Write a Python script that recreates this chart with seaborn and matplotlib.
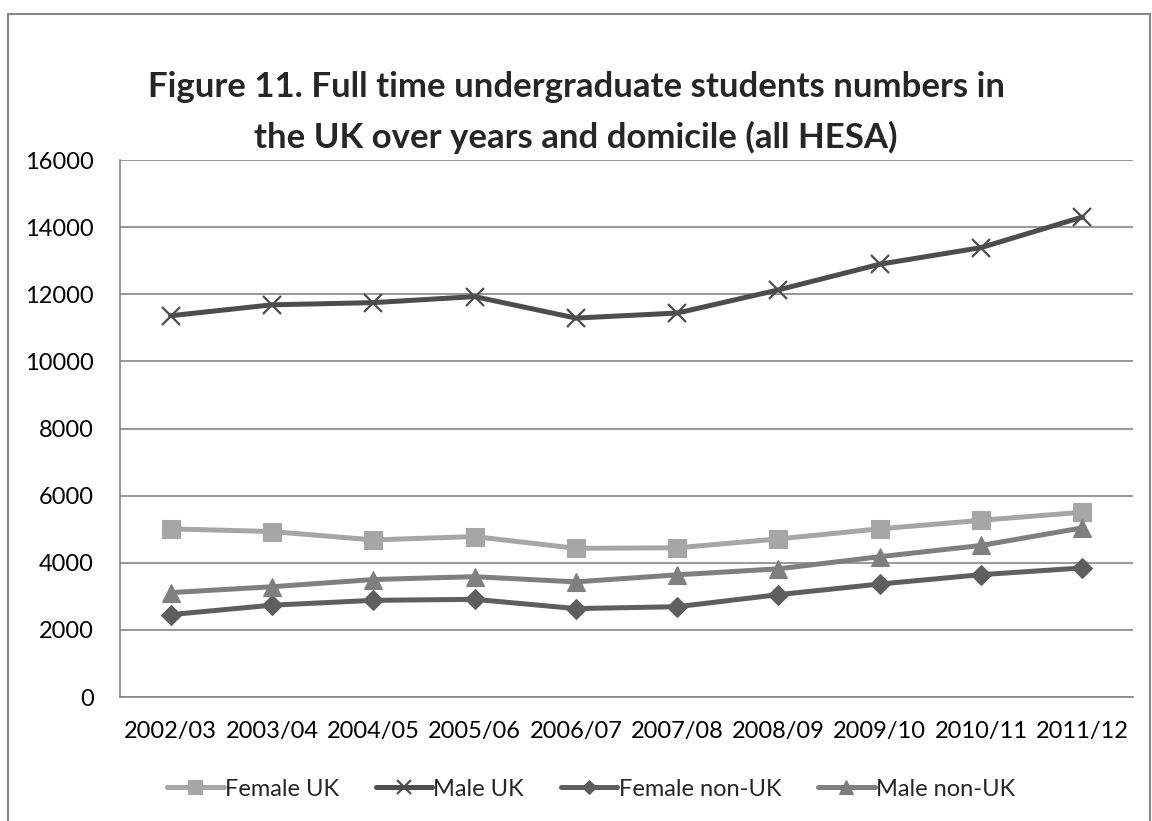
import matplotlib
matplotlib.use("Agg")
import matplotlib.pyplot as plt
from matplotlib.patches import Rectangle
import seaborn as sns
import pandas as pd

years = ["2002/03", "2003/04", "2004/05", "2005/06", "2006/07",
         "2007/08", "2008/09", "2009/10", "2010/11", "2011/12"]
female_uk = [5010, 4930, 4680, 4780, 4430, 4445, 4710, 5010, 5265, 5505]
male_uk = [11360, 11685, 11750, 11930, 11290, 11440, 12130, 12895, 13390, 14300]
female_non_uk = [2455, 2735, 2880, 2910, 2635, 2690, 3050, 3365, 3645, 3845]
male_non_uk = [3110, 3285, 3500, 3585, 3430, 3640, 3820, 4180, 4515, 5040]

series_names = ["Female UK", "Male UK", "Female non-UK", "Male non-UK"]
series_values = [female_uk, male_uk, female_non_uk, male_non_uk]

rows = []
for name, vals in zip(series_names, series_values):
    for i, (yr, v) in enumerate(zip(years, vals)):
        rows.append({"pos": i, "year": yr, "series": name, "students": v})
df = pd.DataFrame(rows)

palette = {"Female UK": "#A6A6A6", "Male UK": "#4D4D4D",
           "Female non-UK": "#5E5E5E", "Male non-UK": "#7F7F7F"}
markers = {"Female UK": "s", "Male UK": "x",
           "Female non-UK": "D", "Male non-UK": "^"}
msizes = {"Female UK": 13, "Male UK": 13, "Female non-UK": 10, "Male non-UK": 13}

sns.set_theme(style="white")
plt.rcParams["font.family"] = ["Lato", "DejaVu Sans"]

fig = plt.figure(figsize=(11.52, 8.21), dpi=100)
ax = fig.add_axes([120 / 1152, 1 - 697 / 821, (1133 - 120) / 1152, (697 - 160) / 821])

for name in series_names:
    sub = df[df["series"] == name]
    sns.lineplot(data=sub, x="pos", y="students", ax=ax, color=palette[name],
                 linewidth=3.6, marker=markers[name], markersize=msizes[name],
                 markeredgecolor=palette[name],
                 markeredgewidth=1.6 if name == "Male UK" else 0.8,
                 label=name, legend=False)

ax.set_xlim(-0.5, len(years) - 0.5)
ax.set_ylim(0, 16000)
ax.set_yticks(range(0, 16001, 2000))
ax.set_xticks(range(len(years)))
ax.set_xticklabels(years)
ax.set_xlabel("")
ax.set_ylabel("")
ax.grid(axis="y", color="#868686", linewidth=1.2)
ax.grid(axis="x", visible=False)
for side in ["top", "right"]:
    ax.spines[side].set_visible(False)
for side in ["left", "bottom"]:
    ax.spines[side].set_color("#868686")
    ax.spines[side].set_linewidth(1.2)
ax.tick_params(axis="both", labelsize=17, colors="black", length=0)
ax.tick_params(axis="x", pad=17)
ax.tick_params(axis="y", pad=19)
ax.set_axisbelow(True)

fig.text(0.5, 1 - 87 / 821, "Figure 11. Full time undergraduate students numbers in",
         ha="center", va="center", fontsize=25, fontweight="bold")
fig.text(0.5, 1 - 137 / 821, "the UK over years and domicile (all HESA)",
         ha="center", va="center", fontsize=25, fontweight="bold")

handles, labels = ax.get_legend_handles_labels()
fig.legend(handles, labels, loc="center", bbox_to_anchor=(591 / 1152, 1 - 789 / 821),
           ncol=4, frameon=False, fontsize=17, handlelength=2.4,
           handletextpad=0.05, columnspacing=1.55, markerscale=0.75)

fig.patches.append(Rectangle((8 / 1152, -0.05), (1150 - 8) / 1152, 1.05 - 14 / 821,
                             transform=fig.transFigure, fill=False,
                             edgecolor="#868686", linewidth=1.5))

fig.savefig("out.png", dpi=100)
